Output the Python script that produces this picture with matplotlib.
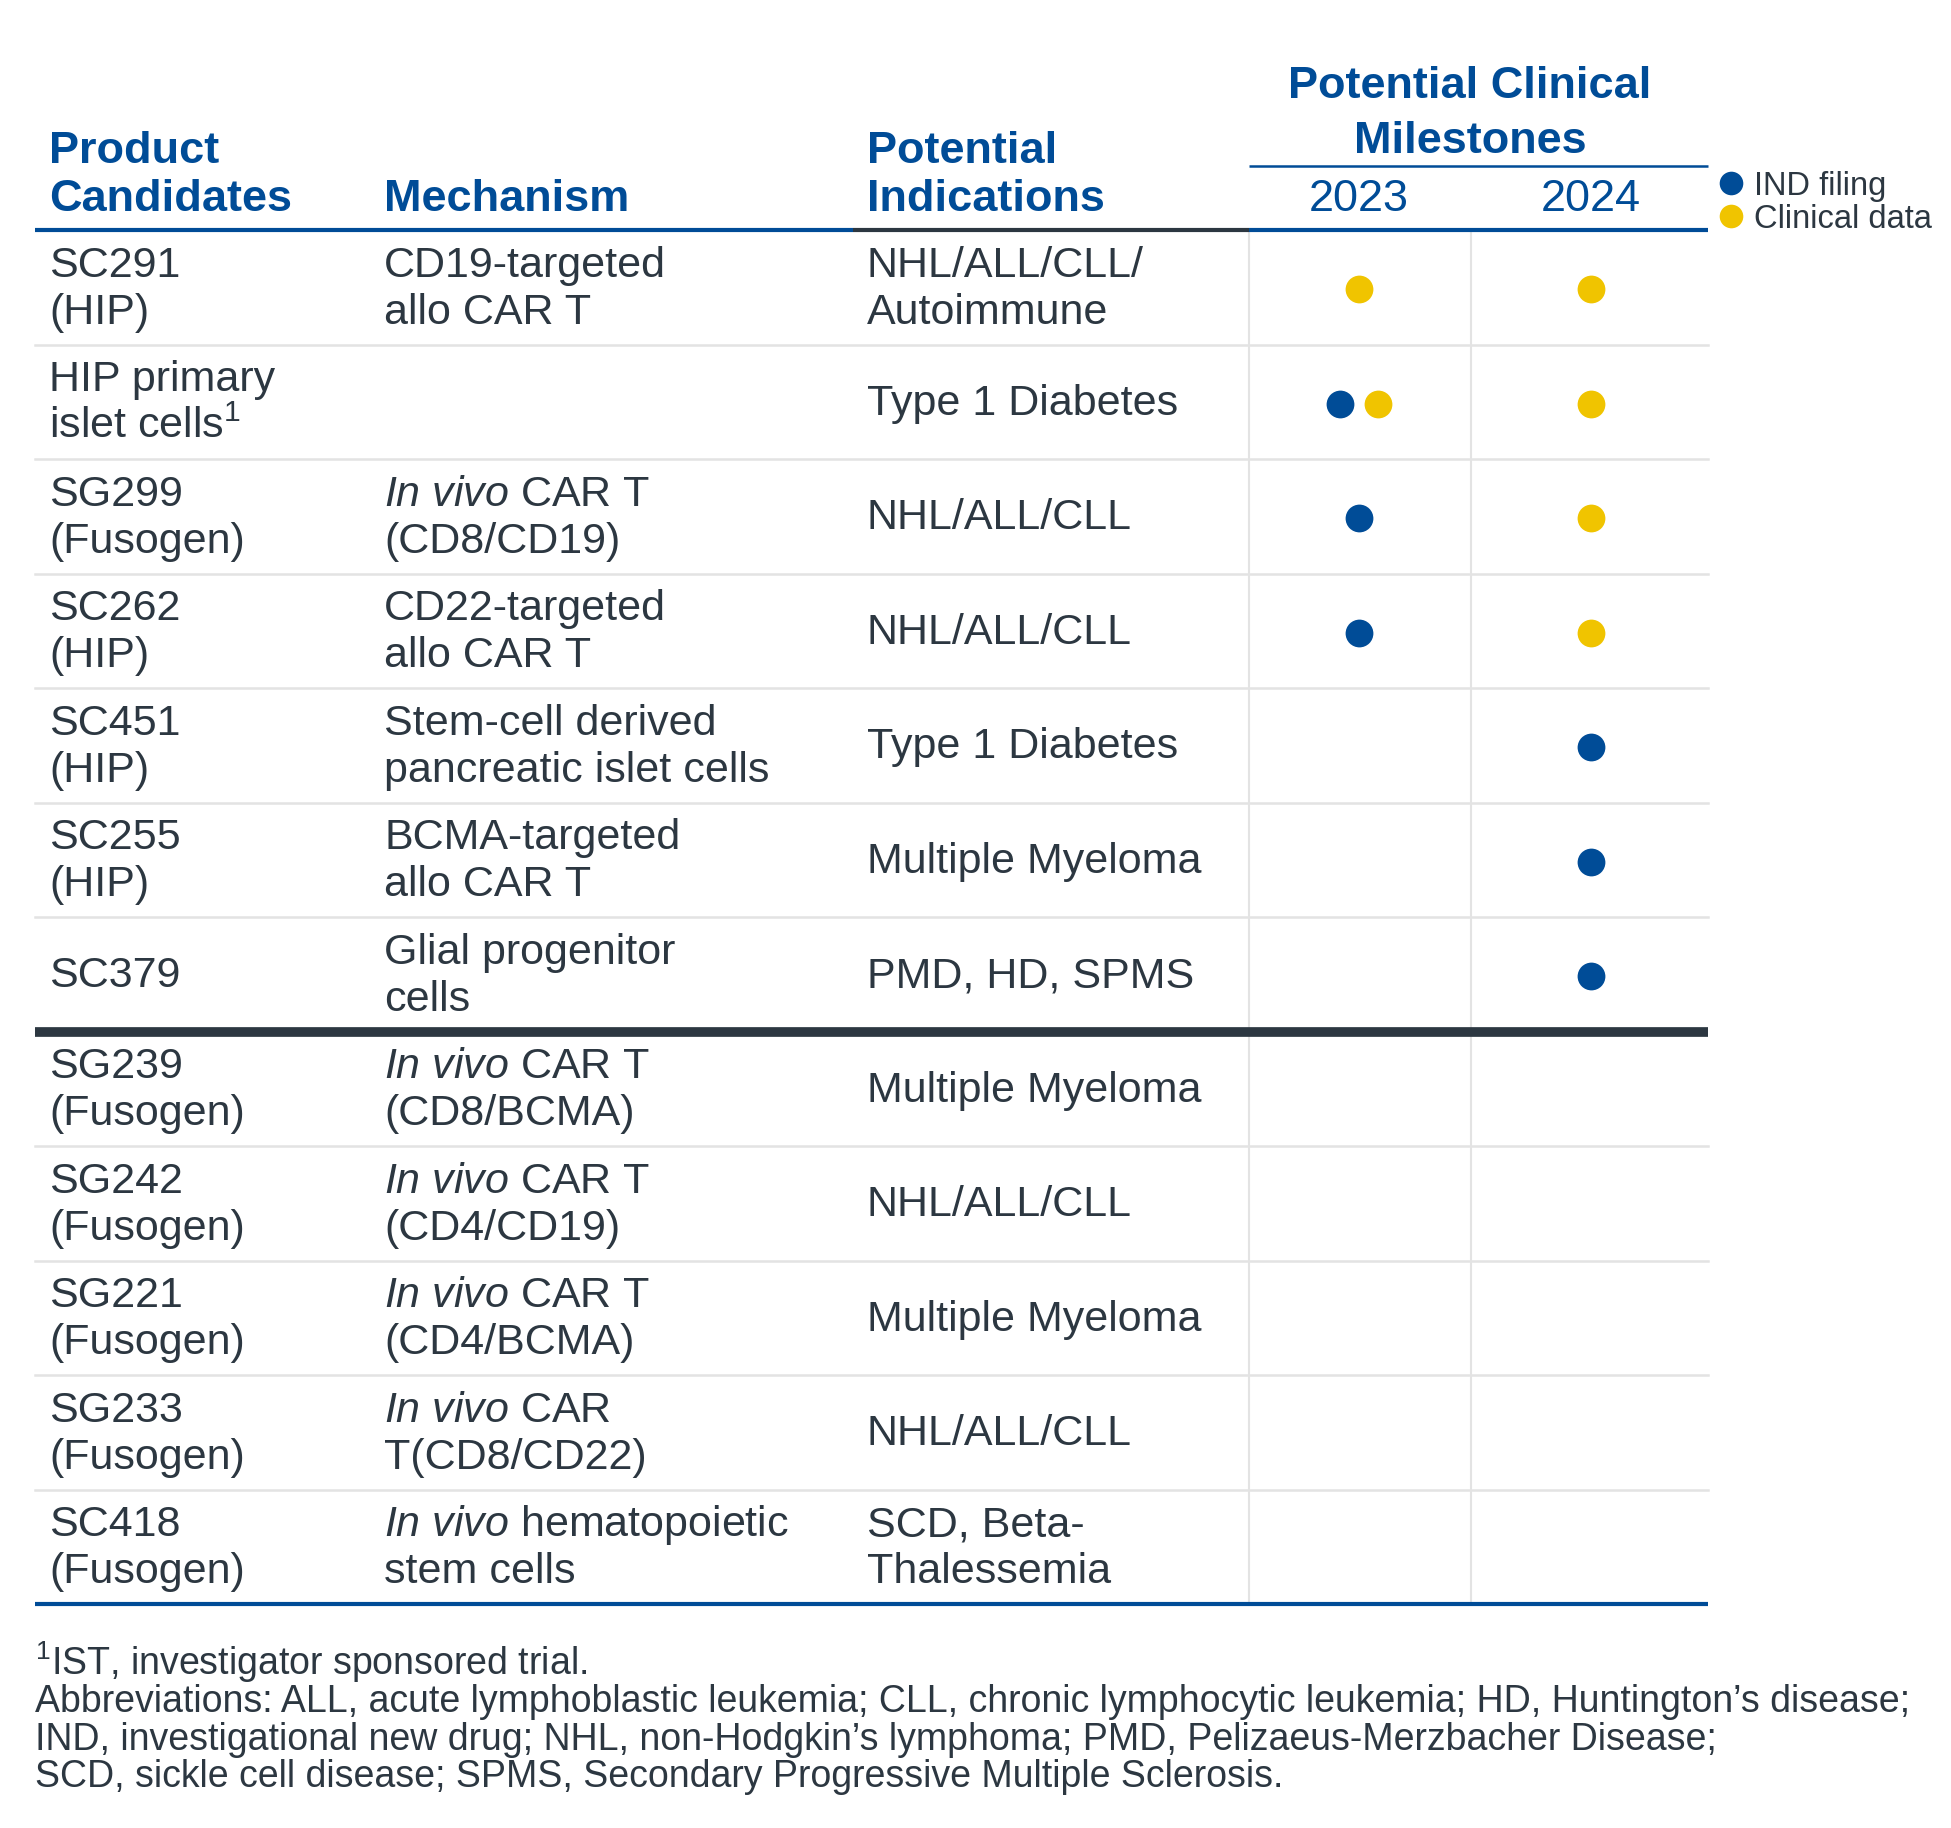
import matplotlib
matplotlib.use("Agg")
import matplotlib.pyplot as plt

plt.rcParams["font.family"] = ["Liberation Sans", "DejaVu Sans"]
plt.rcParams["mathtext.fontset"] = "custom"
plt.rcParams["mathtext.rm"] = "Liberation Sans"
plt.rcParams["mathtext.it"] = "Liberation Sans:italic"
plt.rcParams["mathtext.bf"] = "Liberation Sans:bold"

BLUE = "#004c97"
YELLOW = "#f0c400"
TEXT = "#2c3741"
GRID = "#e3e3e3"

# ---- table content -------------------------------------------------------
candidates = [
    "SC291\n(HIP)", "HIP primary\nislet cells$^{1}$", "SG299\n(Fusogen)",
    "SC262\n(HIP)", "SC451\n(HIP)", "SC255\n(HIP)", "SC379",
    "SG239\n(Fusogen)", "SG242\n(Fusogen)", "SG221\n(Fusogen)",
    "SG233\n(Fusogen)", "SC418\n(Fusogen)",
]
mechanisms = [
    "CD19-targeted\nallo CAR T", "", r"$\it{In\ vivo}$ CAR T" + "\n(CD8/CD19)",
    "CD22-targeted\nallo CAR T", "Stem-cell derived\npancreatic islet cells",
    "BCMA-targeted\nallo CAR T", "Glial progenitor\ncells",
    r"$\it{In\ vivo}$ CAR T" + "\n(CD8/BCMA)",
    r"$\it{In\ vivo}$ CAR T" + "\n(CD4/CD19)",
    r"$\it{In\ vivo}$ CAR T" + "\n(CD4/BCMA)",
    r"$\it{In\ vivo}$ CAR" + "\nT(CD8/CD22)",
    r"$\it{In\ vivo}$ hematopoietic" + "\nstem cells",
]
indications = [
    "NHL/ALL/CLL/\nAutoimmune", "Type 1 Diabetes", "NHL/ALL/CLL",
    "NHL/ALL/CLL", "Type 1 Diabetes", "Multiple Myeloma", "PMD, HD, SPMS",
    "Multiple Myeloma", "NHL/ALL/CLL", "Multiple Myeloma", "NHL/ALL/CLL",
    "SCD, Beta-\nThalessemia",
]
years = ["2023", "2024"]
# milestone markers per row: "ind" = IND filing, "data" = clinical data
milestones_2023 = [["data"], ["ind", "data"], ["ind"], ["ind"], [], [], [],
                   [], [], [], [], []]
milestones_2024 = [["data"], ["data"], ["data"], ["data"], ["ind"], ["ind"],
                   ["ind"], [], [], [], [], []]
legend_labels = {"ind": "IND filing", "data": "Clinical data"}
marker_colors = {"ind": BLUE, "data": YELLOW}

footnotes = [
    "$^{1}$IST, investigator sponsored trial.",
    "Abbreviations: ALL, acute lymphoblastic leukemia; CLL, chronic lymphocytic leukemia; HD, Huntington\u2019s disease;",
    "IND, investigational new drug; NHL, non-Hodgkin\u2019s lymphoma; PMD, Pelizaeus-Merzbacher Disease;",
    "SCD, sickle cell disease; SPMS, Secondary Progressive Multiple Sclerosis.",
]

# ---- layout (pixel units, y downward) ------------------------------------
W, H = 1951, 1828
LEFT, RIGHT = 35, 1708
COL_X = [49, 384, 867]
SEP1, SEP2 = 1249, 1471
YEAR_X = [1359, 1591]
HEADER_Y = 230
ROW_H = 114.5
DIVIDER_ROW = 7
BODY_FS = 31
HEAD_FS = 32.5
LINE_GAP = 47

fig = plt.figure(figsize=(W / 100, H / 100), dpi=100)
ax = fig.add_axes([0, 0, 1, 1])
ax.set_xlim(0, W)
ax.set_ylim(H, 0)
ax.axis("off")


def cell_text(x, row_top, text, **kw):
    lines = text.split("\n")
    base = row_top + ROW_H / 2 + 13 - LINE_GAP * (len(lines) - 1) / 2
    for i, line in enumerate(lines):
        ax.text(x, base + i * LINE_GAP, line, ha="left", va="baseline",
                fontsize=BODY_FS, color=TEXT, **kw)


# header
ax.text(COL_X[0], 163, "Product", fontsize=HEAD_FS, fontweight="bold", color=BLUE)
ax.text(COL_X[0], 211, "Candidates", fontsize=HEAD_FS, fontweight="bold", color=BLUE)
ax.text(COL_X[1], 211, "Mechanism", fontsize=HEAD_FS, fontweight="bold", color=BLUE)
ax.text(COL_X[2], 163, "Potential", fontsize=HEAD_FS, fontweight="bold", color=BLUE)
ax.text(COL_X[2], 211, "Indications", fontsize=HEAD_FS, fontweight="bold", color=BLUE)
ax.text(1470, 98, "Potential Clinical", ha="center", fontsize=HEAD_FS,
        fontweight="bold", color=BLUE)
ax.text(1470, 153, "Milestones", ha="center", fontsize=HEAD_FS,
        fontweight="bold", color=BLUE)
for x, yr in zip(YEAR_X, years):
    ax.text(x, 211, yr, ha="center", fontsize=HEAD_FS, color=BLUE)
ax.plot([SEP1, RIGHT], [166, 166], color=BLUE, lw=1.8, solid_capstyle="butt")

# legend
for i, key in enumerate(["ind", "data"]):
    y = 183 + i * 32.5
    ax.plot(1731, y, "o", ms=17, color=marker_colors[key], mew=0)
    ax.text(1754, y + 12, legend_labels[key], fontsize=23.5, color=TEXT)

# header underline: blue / dark / blue segments
ax.plot([LEFT, 853], [HEADER_Y, HEADER_Y], color=BLUE, lw=3, solid_capstyle="butt")
ax.plot([853, SEP1], [HEADER_Y, HEADER_Y], color=TEXT, lw=3, solid_capstyle="butt")
ax.plot([SEP1, RIGHT], [HEADER_Y, HEADER_Y], color=BLUE, lw=3, solid_capstyle="butt")

n = len(candidates)
bottom = HEADER_Y + n * ROW_H
for x in (SEP1, SEP2):
    ax.plot([x, x], [HEADER_Y + 2, bottom], color=GRID, lw=1.5, zorder=1)

for k in range(1, n + 1):
    y = HEADER_Y + k * ROW_H
    if k == n:
        ax.plot([LEFT, RIGHT], [y, y], color=BLUE, lw=3, solid_capstyle="butt")
    elif k == DIVIDER_ROW:
        ax.plot([LEFT, RIGHT], [y, y], color=TEXT, lw=7, solid_capstyle="butt")
    else:
        ax.plot([LEFT, RIGHT], [y, y], color=GRID, lw=1.8, zorder=1)

for r in range(n):
    top = HEADER_Y + r * ROW_H
    cell_text(COL_X[0], top, candidates[r])
    if mechanisms[r]:
        cell_text(COL_X[1], top, mechanisms[r])
    cell_text(COL_X[2], top, indications[r])
    yc = top + ROW_H / 2 + 2
    for xc, marks in zip(YEAR_X, [milestones_2023[r], milestones_2024[r]]):
        offsets = [0] if len(marks) == 1 else [-19, 19]
        for dx, key in zip(offsets, marks):
            ax.plot(xc + dx, yc, "o", ms=20, color=marker_colors[key], mew=0)

# footnotes
for i, line in enumerate(footnotes):
    ax.text(35, 1675 + i * 37.3, line, fontsize=27, color=TEXT, va="baseline")

fig.savefig("out.png", dpi=100, facecolor="white")
